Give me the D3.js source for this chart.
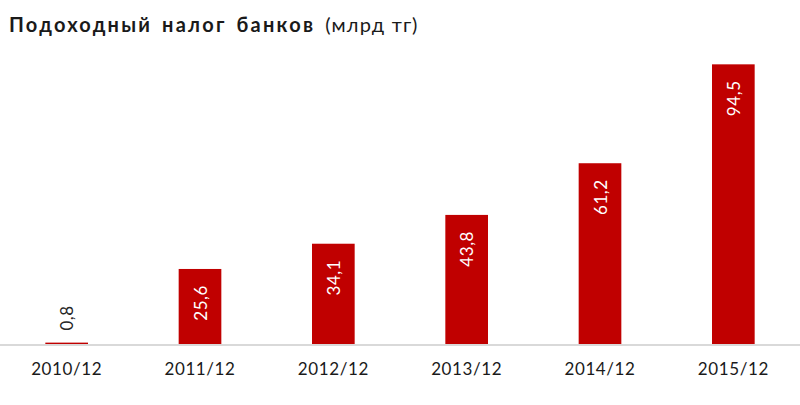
<!DOCTYPE html>
<meta charset="utf-8">
<style>
    body { margin: 0; background: #fff; }
    svg { display: block; font-family: Lato, "Open Sans", sans-serif; }
</style>
<svg id="chart" width="800" height="405"></svg>
<script src="https://cdn.jsdelivr.net/npm/d3@7"></script>
<script>
    // data
    var periods = ["2010/12", "2011/12", "2012/12", "2013/12", "2014/12", "2015/12"];
    var values = [0.8, 25.6, 34.1, 43.8, 61.2, 94.5];
    var labels = ["0,8", "25,6", "34,1", "43,8", "61,2", "94,5"];

    var width = 800, height = 405;
    var baseY = 345;
    var svg = d3.select("#chart");

    var x = d3.scaleBand().domain(periods).range([0, width]).paddingInner(0.68).paddingOuter(0.34);
    var y = d3.scaleLinear().domain([0, 100]).range([baseY, baseY - 297]);

    // title
    var title = svg.append("text").attr("x", 9).attr("y", 32)
        .style("font-size", "20px").attr("fill", "#1a1a1a");
    title.append("tspan").style("font-weight", "bold")
        .style("letter-spacing", "2.2px").style("word-spacing", "3px")
        .text("Подоходный налог банков");
    title.append("tspan").attr("dx", 10).style("font-weight", "normal")
        .style("letter-spacing", "1.2px")
        .text("(млрд тг)");

    var rows = periods.map((p, i) => ({ p: p, v: values[i], l: labels[i] }));

    svg.selectAll("rect.bar").data(rows).join("rect")
        .attr("class", "bar")
        .attr("x", d => x(d.p))
        .attr("width", x.bandwidth())
        .attr("y", d => y(d.v))
        .attr("height", d => y(0) - y(d.v))
        .attr("fill", "#c00000");

    // axis line + tick labels
    var axis = svg.append("g").attr("transform", "translate(0," + baseY + ")")
        .call(d3.axisBottom(x).tickSize(0).tickPadding(18));
    axis.select(".domain").attr("stroke", "#d9d9d9").attr("stroke-width", 2).attr("d", "M0,0H" + width);
    axis.selectAll("text").style("font-size", "17px").style("letter-spacing", "0.6px")
        .attr("fill", "#1a1a1a").style("font-family", "Lato, 'Open Sans', sans-serif");

    // value labels, rotated
    svg.selectAll("text.val").data(rows).join("text")
        .attr("class", "val")
        .attr("transform", d => {
            var cx = x(d.p) + x.bandwidth() / 2;
            var ty = d.v < 5 ? y(d.v) - 12 : y(d.v) + 16;
            return "translate(" + cx + "," + ty + ") rotate(-90)";
        })
        .attr("text-anchor", d => d.v < 5 ? "start" : "end")
        .attr("dominant-baseline", "central")
        .style("font-size", "17px").style("letter-spacing", "0.6px")
        .attr("fill", d => d.v < 5 ? "#262626" : "#fff")
        .text(d => d.l);
</script>
